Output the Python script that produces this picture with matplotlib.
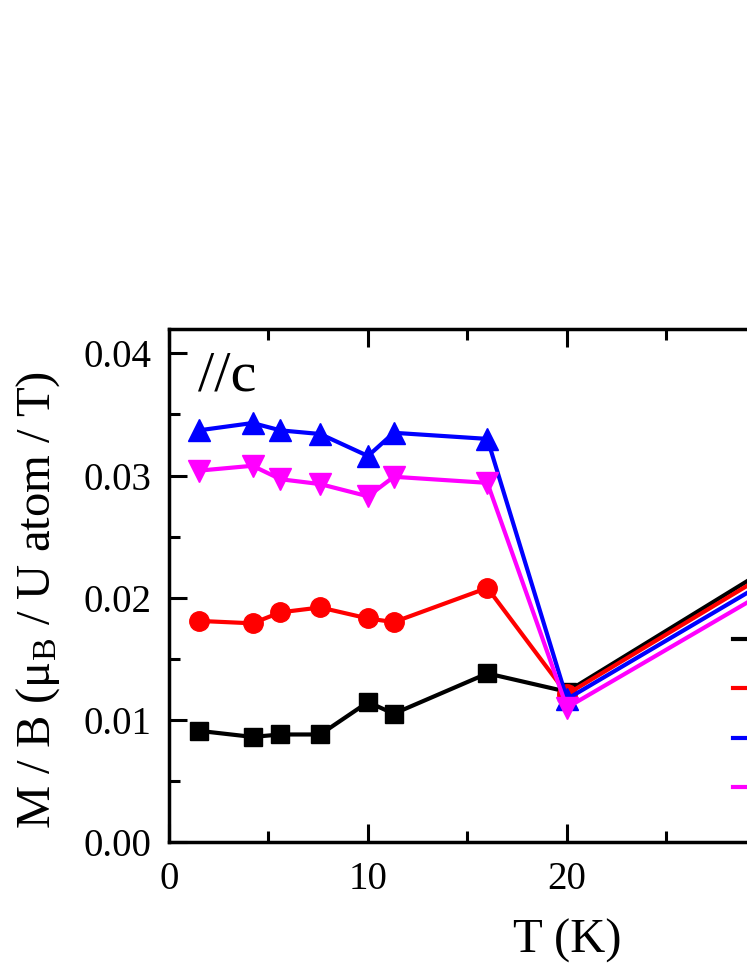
import matplotlib
matplotlib.use("Agg")
import matplotlib.pyplot as plt
from matplotlib.ticker import MultipleLocator, FormatStrFormatter

# temperatures (K) and M/B values for the four field curves
T = [1.5, 4.2, 5.6, 7.6, 10.0, 11.3, 16.0, 20.0, 30.0]
black_vals = [0.0091, 0.0086, 0.0088, 0.0088, 0.01145, 0.0105, 0.0138, 0.0123, 0.0223]
red_vals = [0.0181, 0.0179, 0.0188, 0.0192, 0.0183, 0.0180, 0.0208, 0.0121, 0.0219]
blue_vals = [0.0337, 0.0343, 0.0337, 0.0334, 0.0316, 0.0335, 0.0330, 0.0117, 0.0213]
magenta_vals = [0.0304, 0.0308, 0.0297, 0.0293, 0.0283, 0.0299, 0.0294, 0.0110, 0.0205]
labels = ["0.1 T", "1 T", "3 T", "5 T"]

plt.rcParams['font.family'] = 'Liberation Serif'
plt.rcParams['mathtext.fontset'] = 'custom'
plt.rcParams['mathtext.rm'] = 'Liberation Serif'
plt.rcParams['mathtext.it'] = 'Liberation Serif:italic'

fig = plt.figure(figsize=(7.47, 9.67), dpi=100)
# axes run off the right edge like in the cropped original
ax = fig.add_axes([0.2262, 0.1293, 1.0656, 0.5305])

series = [
    (black_vals, 'black', 's', 12.5),
    (red_vals, 'red', 'o', 14),
    (blue_vals, 'blue', '^', 16.5),
    (magenta_vals, 'magenta', 'v', 16.5),
]
for (vals, col, mk, ms), lab in zip(series, labels):
    ax.plot(T, vals, color=col, marker=mk, markersize=ms, lw=3, label=lab)

ax.set_xlim(0, 40)
ax.set_ylim(0, 0.042)
ax.xaxis.set_major_locator(MultipleLocator(10))
ax.xaxis.set_minor_locator(MultipleLocator(5))
ax.yaxis.set_major_locator(MultipleLocator(0.01))
ax.yaxis.set_minor_locator(MultipleLocator(0.005))
ax.yaxis.set_major_formatter(FormatStrFormatter('%.2f'))

ax.tick_params(which='both', direction='in', top=True, right=True, width=2.2, labelsize=28)
ax.tick_params(axis='y', pad=12.5)
ax.tick_params(axis='x', pad=14)
ax.tick_params(which='major', length=13)
ax.tick_params(which='minor', length=8)
for sp in ax.spines.values():
    sp.set_linewidth(2.5)

ax.set_xlabel('T (K)', fontsize=35, labelpad=15)
ax.set_ylabel(r'M / B (μ$_\mathrm{B}$ / U atom / T)', fontsize=35)
ax.yaxis.set_label_coords(-0.135, 0.472)

ax.text(0.036, 0.881, '//c', transform=ax.transAxes, fontsize=42, va='baseline', ha='left')

# legend: mostly cut off at the right edge, only the line stubs show
LEG_FS = 28
ROW_PITCH = 49.4     # px between legend rows
FIRST_ROW_Y = 967 - 639  # display y (from bottom) of first legend line


def make_legend(spacing, y_anchor):
    return ax.legend(loc='upper left', bbox_to_anchor=(0.7085, y_anchor), frameon=False,
                     borderpad=0, borderaxespad=0, fontsize=LEG_FS, labelspacing=spacing,
                     handlelength=2.2)


def row_centers(leg):
    fig.canvas.draw()
    r = fig.canvas.get_renderer()
    out = []
    for h in leg.legend_handles:
        bb = h.get_window_extent(r)
        out.append((bb.y0 + bb.y1) / 2)
    return out


spacing, y_anchor = 0.2, 0.42
leg = make_legend(spacing, y_anchor)
cy = row_centers(leg)
pitch = (cy[0] - cy[-1]) / (len(cy) - 1)
spacing += (ROW_PITCH - pitch) / (LEG_FS * fig.dpi / 72)
leg.remove()
leg = make_legend(spacing, y_anchor)
cy = row_centers(leg)
y_anchor += (FIRST_ROW_Y - cy[0]) / ax.bbox.height
leg.remove()
leg = make_legend(spacing, y_anchor)

plt.savefig("out.png", dpi=100)
